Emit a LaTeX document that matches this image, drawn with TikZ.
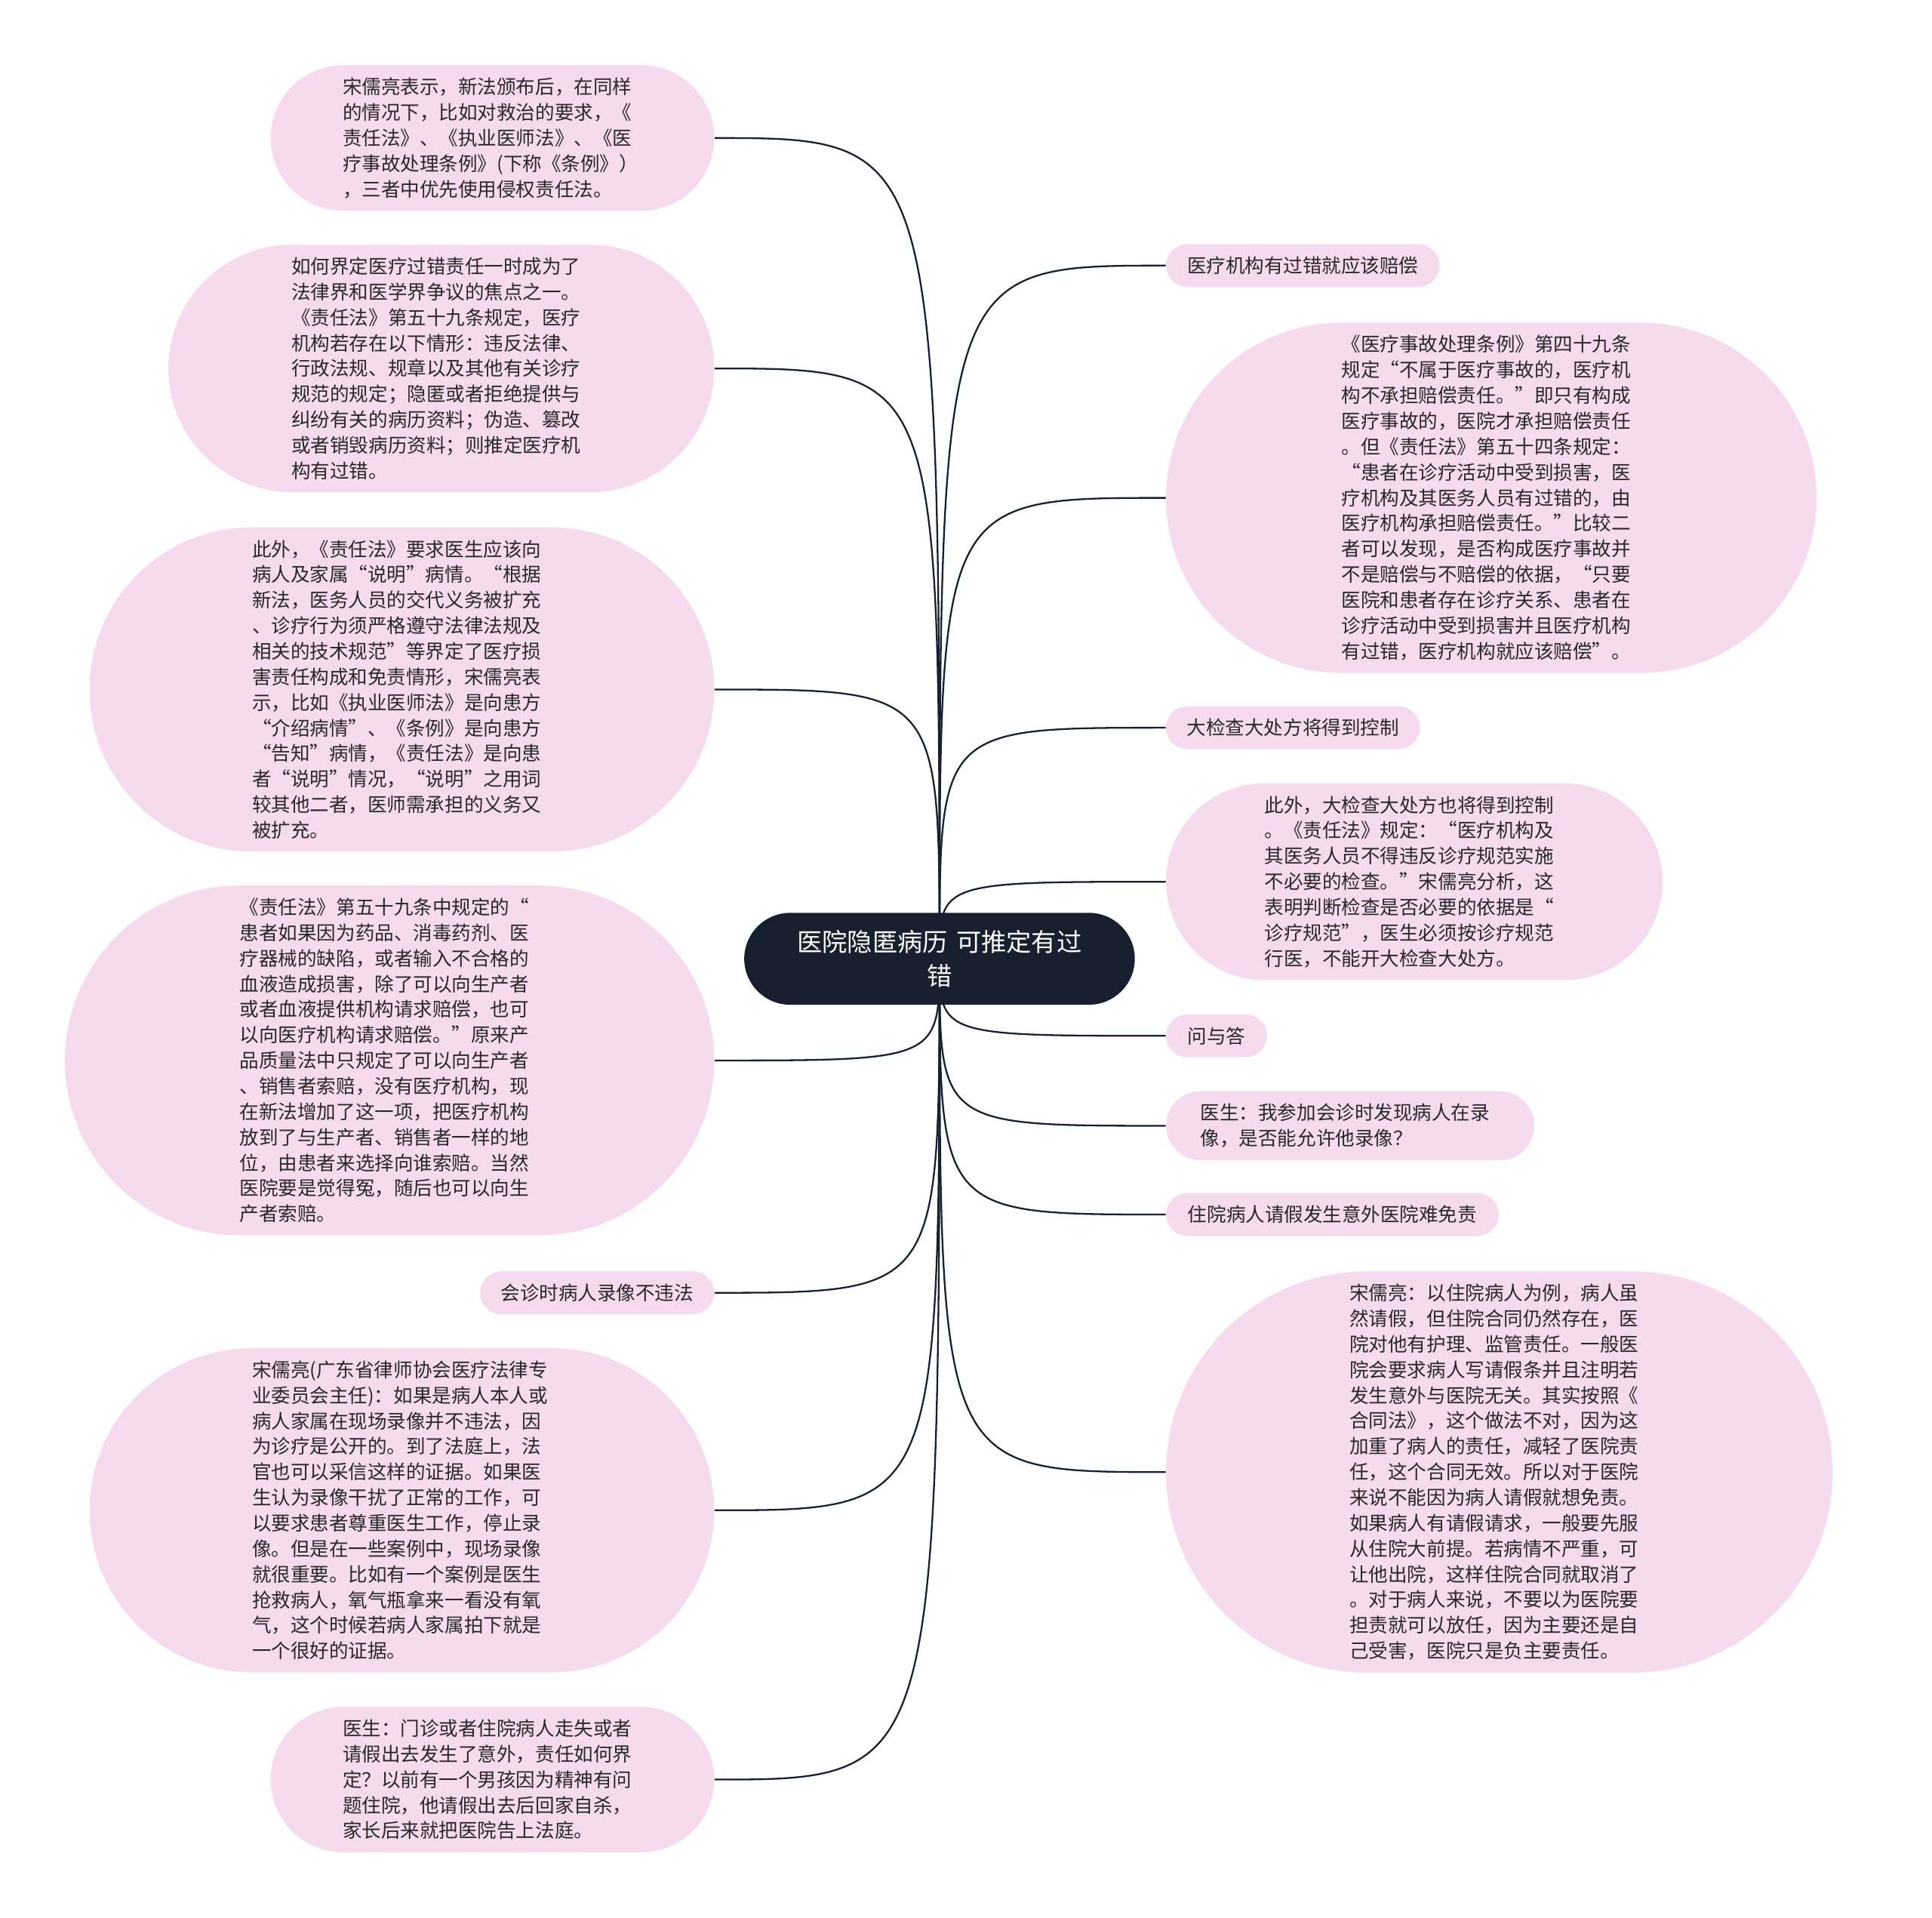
\documentclass[tikz,border=0pt]{standalone}
\usepackage{fontspec}
\newfontfamily\cjkfont{Noto Sans CJK SC}
\usepackage{tikz}
\definecolor{mapnavy}{RGB}{22, 32, 47}
\definecolor{mappink}{RGB}{245, 218, 240}
\definecolor{maptext}{RGB}{40, 40, 40}
\usetikzlibrary{shapes.misc, backgrounds}

\begin{document}
\begin{tikzpicture}[x=0.2mm, y=-0.2mm]

  \tikzset{
    topic-root/.style={
      rounded rectangle, fill=mapnavy, text=white,
      font=\cjkfont\fontsize{11.6}{15.9}\selectfont,
      text width=48.6mm, align=center,
      inner xsep=0pt, inner ysep=7.9pt,
    },
    topic-leaf/.style={
      rounded rectangle, fill=mappink, text=maptext,
      font=\cjkfont\fontsize{8.9}{11.8}\selectfont,
      inner xsep=0pt, inner ysep=5.8pt,
    },
    topic-note/.style={topic-leaf, text width=48.6mm, align=left},
    topic-span/.style={minimum width=#1*0.2mm},
    branch/.style={
      draw=mapnavy, line width=0.8pt,
      to path={.. controls (\tikztostart |- \tikztotarget) .. (\tikztotarget)},
    },
  }

  \useasboundingbox (0, 0) rectangle (1568, 1556);

  %% ---------------- ROOT ----------------
  \node[topic-root, topic-span=317] (root) at (762.5, 778) {医院隐匿病历 可推定有过\\错};

  %% ---------------- LEFT BRANCHES ----------------
  \node[topic-note, topic-span=360, anchor=east] (priority) at (580, 112) {%
    宋儒亮表示，新法颁布后，在同样\\的情况下，比如对救治的要求，《\\责任法》、《执业医师法》、《医\\疗事故处理条例》(下称《条例》）\\，三者中优先使用侵权责任法。};
  \node[topic-note, topic-span=443, anchor=east] (fault-def) at (580, 299) {%
    如何界定医疗过错责任一时成为了\\法律界和医学界争议的焦点之一。\\《责任法》第五十九条规定，医疗\\机构若存在以下情形：违反法律、\\行政法规、规章以及其他有关诊疗\\规范的规定；隐匿或者拒绝提供与\\纠纷有关的病历资料；伪造、篡改\\或者销毁病历资料；则推定医疗机\\构有过错。};
  \node[topic-note, topic-span=507, anchor=east] (explain) at (580, 559.5) {%
    此外，《责任法》要求医生应该向\\病人及家属“说明”病情。“根据\\新法，医务人员的交代义务被扩充\\、诊疗行为须严格遵守法律法规及\\相关的技术规范”等界定了医疗损\\害责任构成和免责情形，宋儒亮表\\示，比如《执业医师法》是向患方\\“介绍病情”、《条例》是向患方\\“告知”病情，《责任法》是向患\\者“说明”情况，“说明”之用词\\较其他二者，医师需承担的义务又\\被扩充。};
  \node[topic-note, topic-span=527, anchor=east] (product) at (580, 860.5) {%
    《责任法》第五十九条中规定的“\\患者如果因为药品、消毒药剂、医\\疗器械的缺陷，或者输入不合格的\\血液造成损害，除了可以向生产者\\或者血液提供机构请求赔偿，也可\\以向医疗机构请求赔偿。”原来产\\品质量法中只规定了可以向生产者\\、销售者索赔，没有医疗机构，现\\在新法增加了这一项，把医疗机构\\放到了与生产者、销售者一样的地\\位，由患者来选择向谁索赔。当然\\医院要是觉得冤，随后也可以向生\\产者索赔。};
  \node[topic-leaf, topic-span=190, anchor=east] (video) at (580, 1049) {会诊时病人录像不违法};
  \node[topic-note, topic-span=507, anchor=east] (video-ans) at (580, 1225.5) {%
    宋儒亮(广东省律师协会医疗法律专\\业委员会主任)：如果是病人本人或\\病人家属在现场录像并不违法，因\\为诊疗是公开的。到了法庭上，法\\官也可以采信这样的证据。如果医\\生认为录像干扰了正常的工作，可\\以要求患者尊重医生工作，停止录\\像。但是在一些案例中，现场录像\\就很重要。比如有一个案例是医生\\抢救病人，氧气瓶拿来一看没有氧\\气，这个时候若病人家属拍下就是\\一个很好的证据。};
  \node[topic-note, topic-span=360, anchor=east] (leave-case) at (580, 1444) {%
    医生：门诊或者住院病人走失或者\\请假出去发生了意外，责任如何界\\定？以前有一个男孩因为精神有问\\题住院，他请假出去后回家自杀，\\家长后来就把医院告上法庭。};

  %% ---------------- RIGHT BRANCHES ----------------
  \node[topic-leaf, topic-span=222, anchor=west] (fault-pay) at (946, 215.5) {医疗机构有过错就应该赔偿};
  \node[topic-note, topic-span=528, anchor=west] (fault-pay-note) at (946, 404) {%
    《医疗事故处理条例》第四十九条\\规定“不属于医疗事故的，医疗机\\构不承担赔偿责任。”即只有构成\\医疗事故的，医院才承担赔偿责任\\。但《责任法》第五十四条规定：\\“患者在诊疗活动中受到损害，医\\疗机构及其医务人员有过错的，由\\医疗机构承担赔偿责任。”比较二\\者可以发现，是否构成医疗事故并\\不是赔偿与不赔偿的依据，“只要\\医院和患者存在诊疗关系、患者在\\诊疗活动中受到损害并且医疗机构\\有过错，医疗机构就应该赔偿”。};
  \node[topic-leaf, topic-span=206, anchor=west] (exam) at (946, 590.5) {大检查大处方将得到控制};
  \node[topic-note, topic-span=403, anchor=west] (exam-note) at (946, 715.5) {%
    此外，大检查大处方也将得到控制\\。《责任法》规定：“医疗机构及\\其医务人员不得违反诊疗规范实施\\不必要的检查。”宋儒亮分析，这\\表明判断检查是否必要的依据是“\\诊疗规范”，医生必须按诊疗规范\\行医，不能开大检查大处方。};
  \node[topic-leaf, topic-span=82, anchor=west] (qa) at (946, 840.5) {问与答};
  \node[topic-note, topic-span=299, anchor=west] (video-q) at (946, 913.5) {%
    医生：我参加会诊时发现病人在录\\像，是否能允许他录像？};
  \node[topic-leaf, topic-span=270, anchor=west] (leave) at (946, 985.5) {住院病人请假发生意外医院难免责};
  \node[topic-note, topic-span=541, anchor=west] (leave-note) at (946, 1194.5) {%
    宋儒亮：以住院病人为例，病人虽\\然请假，但住院合同仍然存在，医\\院对他有护理、监管责任。一般医\\院会要求病人写请假条并且注明若\\发生意外与医院无关。其实按照《\\合同法》，这个做法不对，因为这\\加重了病人的责任，减轻了医院责\\任，这个合同无效。所以对于医院\\来说不能因为病人请假就想免责。\\如果病人有请假请求，一般要先服\\从住院大前提。若病情不严重，可\\让他出院，这样住院合同就取消了\\。对于病人来说，不要以为医院要\\担责就可以放任，因为主要还是自\\己受害，医院只是负主要责任。};

  %% ---------------- CONNECTORS ----------------
  \begin{scope}[on background layer]
    \foreach \leaf in {priority, fault-def, explain, product, video, video-ans, leave-case}
      \draw[branch] (root.center) to (\leaf.east);
    \foreach \leaf in {fault-pay, fault-pay-note, exam, exam-note, qa, video-q, leave, leave-note}
      \draw[branch] (root.center) to (\leaf.west);
  \end{scope}

\end{tikzpicture}
\end{document}
